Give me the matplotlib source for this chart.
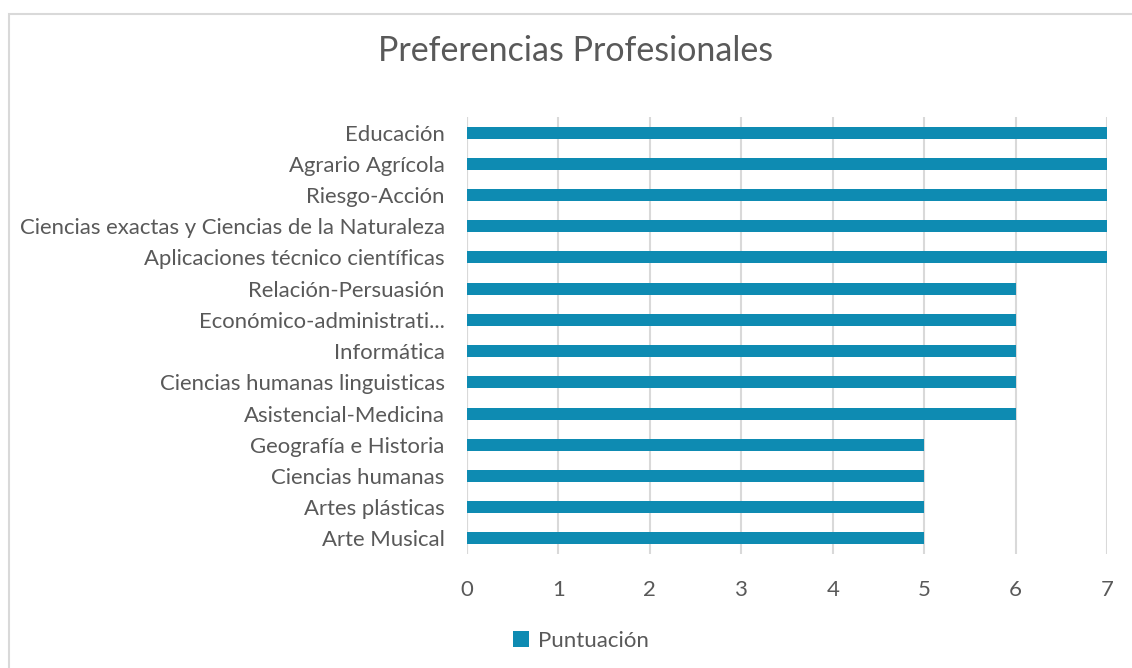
import matplotlib
matplotlib.use("Agg")
import matplotlib.pyplot as plt
from matplotlib.patches import Rectangle

categories = [
    "Educación",
    "Agrario Agrícola",
    "Riesgo-Acción",
    "Ciencias exactas y Ciencias de la Naturaleza",
    "Aplicaciones técnico científicas",
    "Relación-Persuasión",
    "Económico-administrati...",
    "Informática",
    "Ciencias humanas linguisticas",
    "Asistencial-Medicina",
    "Geografía e Historia",
    "Ciencias humanas",
    "Artes plásticas",
    "Arte Musical",
]
values = [7, 7, 7, 7, 7, 6, 6, 6, 6, 6, 5, 5, 5, 5]
series_name = "Puntuación"
title = "Preferencias Profesionales"
xticks = [0, 1, 2, 3, 4, 5, 6, 7]

plt.rcParams['font.family'] = ['Lato', 'DejaVu Sans']
text_color = "#595959"
bar_color = "#0E8BB2"
grid_color = "#D9D9D9"

fig = plt.figure(figsize=(11.32, 6.68), dpi=100)
ax = fig.add_axes([467/1132, 1-554/668, 640/1132, 437/668])

y = list(range(len(categories)))[::-1]
ax.barh(y, values, height=0.385, color=bar_color, label=series_name, zorder=3)
ax.set_ylim(-0.5, len(categories) - 0.5)
ax.set_xlim(0, 7)
ax.set_yticks(y)
ax.set_yticklabels(categories, fontsize=15.9, color=text_color)
ax.set_xticks(xticks)
ax.set_xticklabels([str(t) for t in xticks], fontsize=15.9, color=text_color)
ax.tick_params(axis='both', length=0)
ax.tick_params(axis='y', pad=16)
ax.tick_params(axis='x', pad=19)
ax.xaxis.grid(True, color=grid_color, linewidth=1.5, zorder=0)
for s in ax.spines.values():
    s.set_visible(False)
ax.axvline(0, color=grid_color, linewidth=1.5, zorder=1)

fig.text(576/1132, 1-51/668, title, ha='center', va='center', fontsize=24.5,
         color=text_color, fontweight='normal')

leg = fig.legend(loc='center', bbox_to_anchor=(581/1132, 1-641/668), frameon=False,
                 fontsize=16, handlelength=0.7, handleheight=0.7, handletextpad=0.4)
for t in leg.get_texts():
    t.set_color(text_color)

fig.patches.append(Rectangle((9/1132, -0.1), 1.2, 1 - 14/668 + 0.1, transform=fig.transFigure,
                             fill=False, edgecolor=grid_color, linewidth=1.5))

fig.savefig("out.png", dpi=100)
